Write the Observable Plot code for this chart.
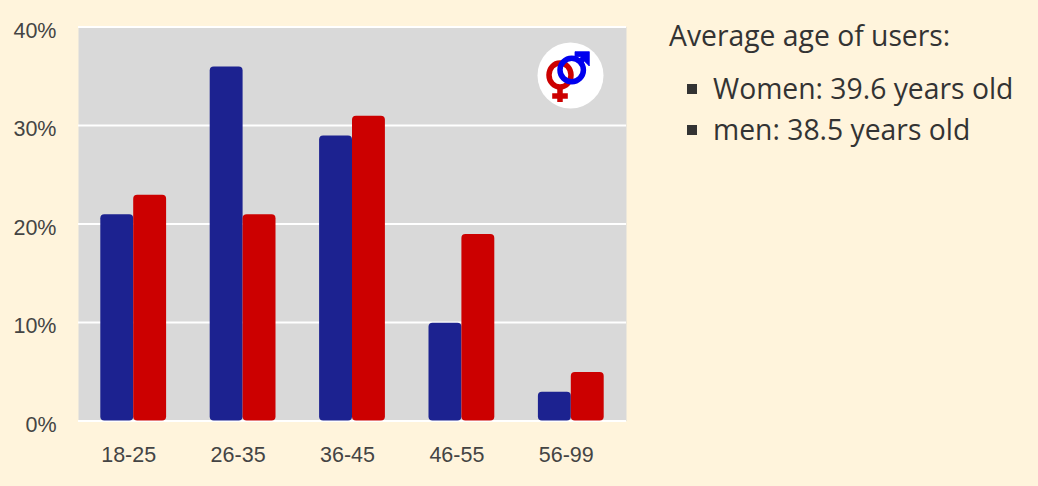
<!DOCTYPE html>
<html><head><meta charset="utf-8">
<script src="https://cdn.jsdelivr.net/npm/d3@7"></script>
<script src="https://cdn.jsdelivr.net/npm/@observablehq/plot@0.6"></script>
<style>
html,body{margin:0;padding:0;background:#fff4dc;width:1038px;height:486px;overflow:hidden}
#chart{position:absolute;left:0;top:0}
#chart svg{background:transparent;display:block}
#side{position:absolute;left:669px;top:15px;font-family:"Open Sans",sans-serif;font-size:28.3px;line-height:41px;color:#333}
#side ul{list-style:none;margin:12px 0 0 0;padding:0}
#side li{position:relative;padding-left:44px;line-height:40.5px}
#side li::before{content:"";position:absolute;left:18px;top:16px;width:10px;height:10px;background:#333}
#logo{position:absolute;left:537px;top:42px}
</style></head><body>
<div id="chart"></div>
<svg id="logo" width="68" height="68" viewBox="0 0 68 68">
<circle cx="33.5" cy="33.5" r="33" fill="#fff"/>
<g fill="none" stroke="#cc0000" stroke-width="5.5">
<ellipse cx="23" cy="33" rx="11" ry="12"/>
<path d="M23 44V60M15.2 54H30.8"/>
</g>
<g fill="none" stroke="#0000ee" stroke-width="5.5">
<circle cx="34.7" cy="28" r="11.7"/>
<path d="M43 20L50 13"/>
</g>
<path d="M38 9.7H52.3V24L47.8 19.5L43 14.5H38Z" fill="#0000ee" stroke="#0000ee" stroke-width=".8"/>
</svg>
<div id="side">Average age of users:
<ul><li>Women: 39.6 years old</li><li>men: 38.5 years old</li></ul></div>
<script>
const ages = ["18-25","26-35","36-45","46-55","56-99"];
const men = [21,36,29,10,3];
const women = [23,21,31,19,5];
const menColor = "#1c2290";
const womenColor = "#cc0000";
const ticks = [0,10,20,30,40];
const menRows = ages.map((age,i)=>({age,value:men[i]}));
const womenRows = ages.map((age,i)=>({age,value:women[i]}));
const labelStyle = {fontFamily:"'Liberation Sans',Arial,sans-serif",fontSize:21.5,fill:"#444",stroke:"none"};
const barStyle = {rx:4,insetTop:0.7};
const plot = Plot.plot({
  width:1038,height:486,
  marginLeft:78,marginRight:412,marginTop:26.5,marginBottom:65.5,
  style:{background:"transparent",overflow:"visible"},
  x:{domain:ages,padding:0,round:false,range:[78,625],axis:null},
  y:{domain:[0,40],ticks,axis:null},
  marks:[
    Plot.frame({fill:"#d9d9d9",stroke:null}),
    Plot.ruleY(ticks,{stroke:"#fff",strokeWidth:2,strokeOpacity:1}),
    Plot.barY(menRows,{x:"age",y:"value",fill:menColor,insetLeft:22.3,insetRight:54.2,...barStyle}),
    Plot.barY(womenRows,{x:"age",y:"value",fill:womenColor,insetLeft:55.2,insetRight:21.3,...barStyle}),
    Plot.text(ticks,{y:d=>d,frameAnchor:"left",dx:-22,dy:4,textAnchor:"end",text:d=>d+"%",...labelStyle}),
    Plot.text(ages,{x:d=>d,text:d=>d,frameAnchor:"bottom",dy:41,dx:-4.5,...labelStyle})
  ]
});
document.getElementById("chart").append(plot);
</script>
</body></html>
